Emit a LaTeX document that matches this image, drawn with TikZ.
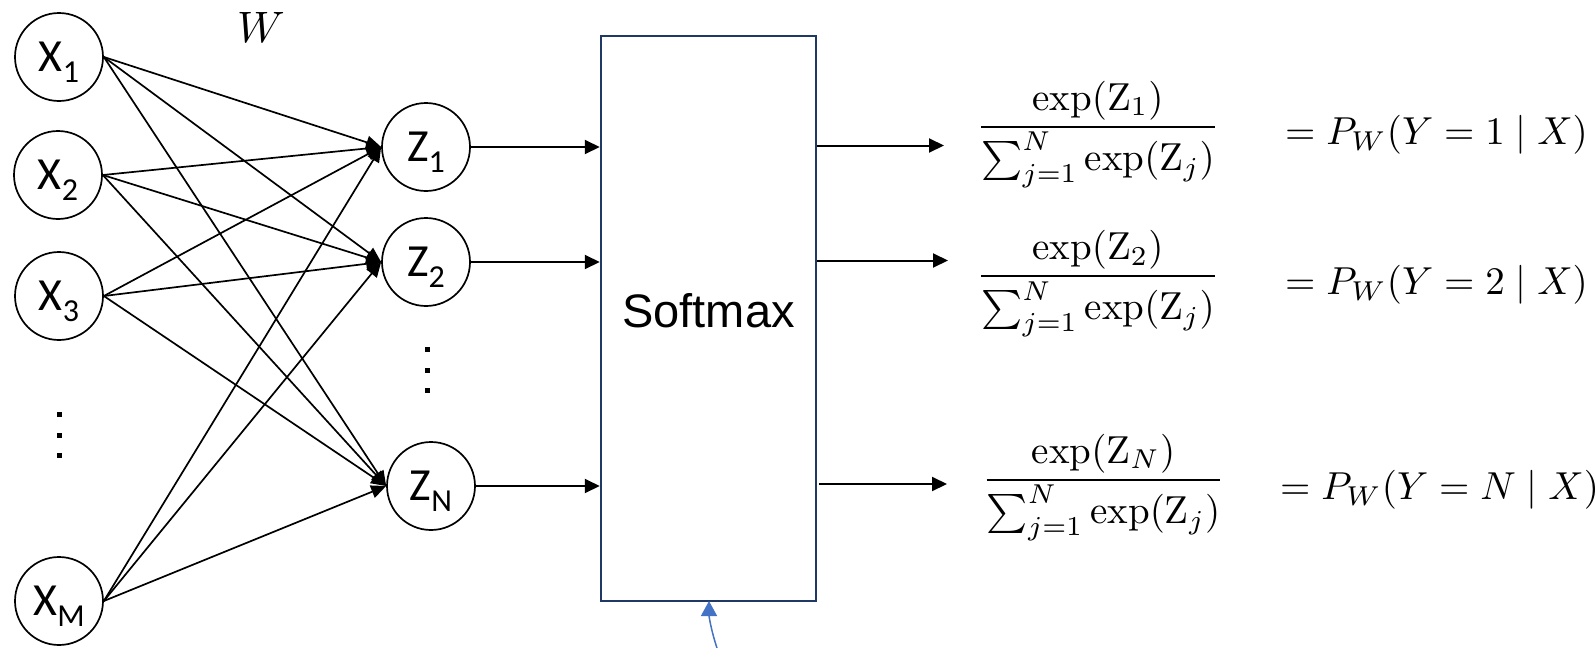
\documentclass[tikz,border=0pt]{standalone}
\usepackage{amsmath}
\usepackage{graphicx}
\usepackage{fontspec}
\newfontfamily\carlitofont{Carlito}
\newfontfamily\arialfont{Liberation Sans}
\usetikzlibrary{arrows.meta}
\definecolor{boxnavy}{HTML}{203864}
\definecolor{accblue}{HTML}{4472C4}
\newcommand{\nlbl}[2]{{\carlitofont\fontsize{46}{46}\selectfont #1\smash{\raisebox{-11pt}{\fontsize{32}{32}\selectfont #2}}}}
\newcommand{\bigmath}[1]{\scalebox{3.9}{\fontsize{10}{12}\selectfont #1}}
\tikzset{
  neuron/.style={circle, draw, line width=1.7pt, minimum size=88pt, inner sep=0pt},
  edge/.style={line width=1.7pt, -{Triangle[length=15pt,width=13pt]}},
  outarr/.style={line width=2pt, -{Triangle[length=15pt,width=14pt]}},
  mathtxt/.style={inner sep=0pt},
  vdot/.style={fill=black, minimum size=5pt, inner sep=0pt},
}
\begin{document}
\begin{tikzpicture}[x=1pt,y=-1pt]
\useasboundingbox (0,0) rectangle (1596,648);
% input neurons
\node[neuron] (X1) at (59,57) {\nlbl{X}{1}};
\node[neuron] (X2) at (58,175) {\nlbl{X}{2}};
\node[neuron] (X3) at (59,296) {\nlbl{X}{3}};
\node[neuron] (XM) at (59,601) {\nlbl{X}{M}};
% hidden neurons
\node[neuron] (Z1) at (426,147) {\nlbl{Z}{1}};
\node[neuron] (Z2) at (426,262) {\nlbl{Z}{2}};
\node[neuron] (ZN) at (431,486) {\nlbl{Z}{N}};
% dots
\node[vdot] (dl1) at (59,414) {};
\node[vdot] (dl2) at (59,435) {};
\node[vdot] (dl3) at (59,455) {};
\node[vdot] (dm1) at (427,349) {};
\node[vdot] (dm2) at (427,370) {};
\node[vdot] (dm3) at (427,390) {};
% weight label
\node[inner sep=0pt] (W) at (261,27) {\scalebox{4.4}{\fontsize{10}{12}\selectfont $W$}};
% edges
\foreach \x in {X1,X2,X3,XM}{
  \foreach \z in {Z1,Z2,ZN}{
    \draw[edge] (\x.east) -- (\z.west);
  }
}
% softmax box
\node[draw=boxnavy, line width=2.5pt, minimum width=215pt, minimum height=565pt, inner sep=0pt] (box) at (708.5,318.5) {};
\node[inner sep=0pt, anchor=base, font=\arialfont\fontsize{47}{47}\selectfont] (sm) at (708.5,327) {Softmax};
% into box
\draw[outarr] (Z1.east) -- (Z1.east -| box.west);
\draw[outarr] (Z2.east) -- (Z2.east -| box.west);
\draw[outarr] (ZN.east) -- (ZN.east -| box.west);
% out of box
\coordinate (o1) at (944,145.5);
\coordinate (o2) at (948,260.5);
\coordinate (o3s) at (819,484);
\coordinate (o3) at (947,484);
\draw[outarr] (o1 -| box.east) -- (o1);
\draw[outarr] (o2 -| box.east) -- (o2);
\draw[outarr] (o3s) -- (o3);
% formulas
\node[mathtxt, anchor=base] (f1) at (1098,136.5) {\bigmath{$\dfrac{\exp(\mathrm{Z}_1)}{\sum_{j=1}^{N}\exp(\mathrm{Z}_j)}$}};
\node[mathtxt, anchor=base] (f2) at (1098,286) {\bigmath{$\dfrac{\exp(\mathrm{Z}_2)}{\sum_{j=1}^{N}\exp(\mathrm{Z}_j)}$}};
\node[mathtxt, anchor=base] (f3) at (1103.5,489.5) {\bigmath{$\dfrac{\exp(\mathrm{Z}_N)}{\sum_{j=1}^{N}\exp(\mathrm{Z}_j)}$}};
\node[mathtxt, anchor=base west] (e1) at (1285,144.5) {\bigmath{$= P_W(Y = 1 \mid X)$}};
\node[mathtxt, anchor=base west] (e2) at (1285,294.5) {\bigmath{$= P_W(Y = 2 \mid X)$}};
\node[mathtxt, anchor=base west] (e3) at (1280,499.5) {\bigmath{$= P_W(Y = N \mid X)$}};
% blue arrow
\coordinate (bb) at (717,648);
\coordinate (bt) at (709,601);
\draw[accblue, line width=1.5pt, -{Triangle[length=15pt,width=16pt]}] (bb) .. controls (711,630) and (709,616) .. (bt);
\end{tikzpicture}
\end{document}
